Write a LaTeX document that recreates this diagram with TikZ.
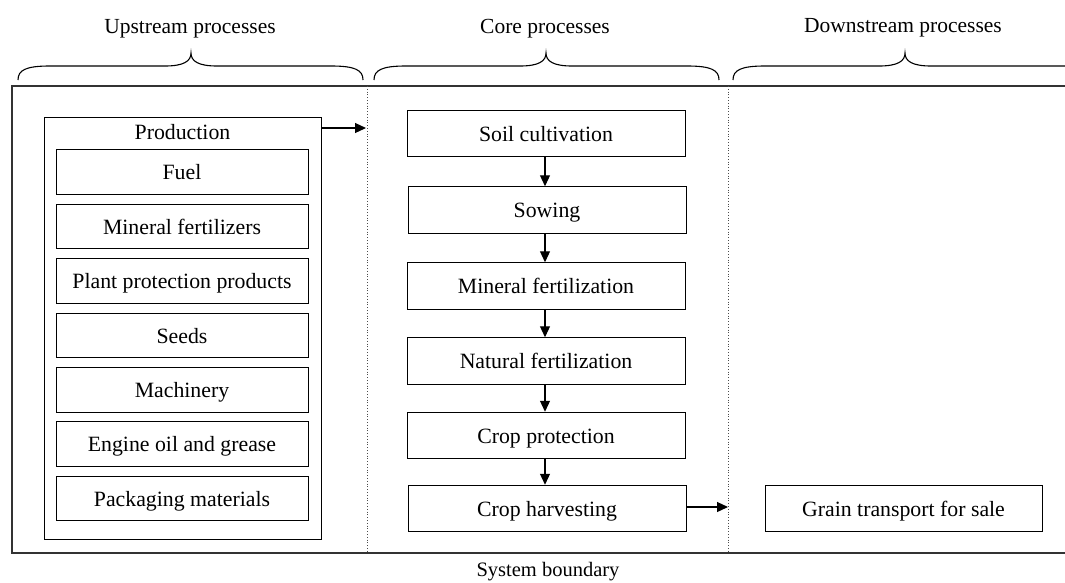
\documentclass[tikz,border=0pt]{standalone}
\usepackage{fontspec}
\setmainfont{Liberation Serif}
\usetikzlibrary{arrows.meta}
\tikzset{
  box/.style={draw, line width=1pt, inner sep=0pt, align=center, text height=19pt, text depth=4pt, font=\fontsize{21.8}{26}\selectfont},
  upbox/.style={box, minimum width=252pt, minimum height=44.5pt},
  corebox/.style={box, minimum width=278pt, minimum height=46.5pt},
  lbl/.style={inner sep=0pt, anchor=base, font=\fontsize{21.5}{26}\selectfont},
  arr/.style={line width=1.2pt, -{Triangle[length=11pt,width=10pt]}},
  bnd/.style={line width=1.3pt, color=black!80},
  sep/.style={line width=0.8pt, dotted, color=black!70},
  brace/.style={line width=1.1pt}
}
\begin{document}
\begin{tikzpicture}[x=1pt,y=-1pt]
\useasboundingbox (0,0) rectangle (1065,582);
% boundary
\draw[bnd] (1065,86) -- (12,86) -- (12,553) -- (1065,553);
\draw[sep] (367,86) -- (367,553);
\draw[sep] (728,86) -- (728,553);
% braces
\draw[brace] (18,80) .. controls (18,70) and (26,66) .. (50,66) -- (165,66) .. controls (184,66) and (191,61) .. (191,53) .. controls (191,61) and (198,66) .. (217,66) -- (331,66) .. controls (355,66) and (363,70) .. (363,80);
\draw[brace] (374,80) .. controls (374,70) and (382,66) .. (406,66) -- (520,66) .. controls (539,66) and (546,61) .. (546,53) .. controls (546,61) and (553,66) .. (572,66) -- (687,66) .. controls (711,66) and (719,70) .. (719,80);
\draw[brace] (733,80) .. controls (733,70) and (741,66) .. (765,66) -- (879,66) .. controls (898,66) and (905,61) .. (905,53) .. controls (905,61) and (912,66) .. (931,66) -- (1065,66);
% headers
\node[lbl] (hup) at (190,33) {Upstream processes};
\node[lbl] (hcore) at (545,33) {Core processes};
\node[lbl] (hdown) at (903,32) {Downstream processes};
\node[lbl, font=\fontsize{20.5}{24}\selectfont] (sysb) at (548,576) {System boundary};
% production
\node[draw, line width=1pt, minimum width=277pt, minimum height=422pt, inner sep=0pt] (prod) at (182.5,328) {};
\node[lbl, font=\fontsize{21.8}{26}\selectfont] (prodlbl) at (182.5,139) {Production};
\node[upbox] (fuel) at (182,172) {Fuel};
\node[upbox] (minf) at (182,226.5) {Mineral fertilizers};
\node[upbox] (ppp) at (182,281) {Plant protection products};
\node[upbox] (seeds) at (182,335.5) {Seeds};
\node[upbox] (mach) at (182,390) {Machinery};
\node[upbox] (oil) at (182,444) {Engine oil and grease};
\node[upbox] (pack) at (182,498.5) {Packaging materials};
% core
\node[corebox] (soil) at (546,133.5) {Soil cultivation};
\node[corebox] (sow) at (547,210) {Sowing};
\node[corebox] (mfert) at (546,286) {Mineral fertilization};
\node[corebox] (nfert) at (546,361) {Natural fertilization};
\node[corebox] (prot) at (546,435.5) {Crop protection};
\node[corebox] (harv) at (547,508.5) {Crop harvesting};
% downstream
\node[box, minimum width=277pt, minimum height=46.5pt] (grain) at (903.5,508.5) {Grain transport for sale};
% arrows
\coordinate (p1) at (366,128);
\coordinate (h1) at (728,507);
\draw[arr] (p1 -| prod.east) -- (p1);
\draw[arr] (soil.south -| 545,0) -- (sow.north -| 545,0);
\draw[arr] (sow.south -| 545,0) -- (mfert.north -| 545,0);
\draw[arr] (mfert.south -| 545,0) -- (nfert.north -| 545,0);
\draw[arr] (nfert.south -| 545,0) -- (prot.north -| 545,0);
\draw[arr] (prot.south -| 545,0) -- (harv.north -| 545,0);
\draw[arr] (harv.east |- h1) -- (h1);
\end{tikzpicture}
\end{document}
